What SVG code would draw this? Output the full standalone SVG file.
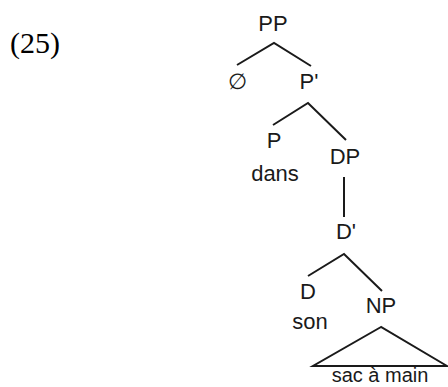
<svg xmlns="http://www.w3.org/2000/svg" width="448" height="387" viewBox="0 0 448 387">
  <style>
    .lbl { font-family: "Liberation Sans", Arial, sans-serif; font-size: 22px; fill: #1a1a1a; text-anchor: middle; }
    .leaf { font-size: 20px; }
    .num { font-family: "Liberation Serif", "Times New Roman", serif; font-size: 30px; fill: #000; }
    .edge { stroke: #1a1a1a; stroke-width: 2; fill: none; stroke-linecap: butt; }
  </style>
  <rect width="448" height="387" fill="#fff"/>
  <text class="num" x="10" y="53">(25)</text>

  <g id="connectors">
    <polyline class="edge" points="237,65 274,43 311,66"/>
    <polyline class="edge" points="273,125 308,103 346,140"/>
    <line class="edge" x1="344" y1="177" x2="344" y2="217"/>
    <polyline class="edge" points="308,276 344,254 382,291"/>
    <polygon class="edge" points="381,327 313,366 447,366"/>
  </g>

  <g id="node-PP"><text class="lbl" x="273" y="31">PP</text></g>
  <g id="node-empty"><text class="lbl" x="237" y="89">∅</text></g>
  <g id="node-Pbar"><text class="lbl" x="309" y="89">P'</text></g>
  <g id="node-P"><text class="lbl" x="274" y="148">P</text><text class="lbl" x="275" y="181">dans</text></g>
  <g id="node-DP"><text class="lbl" x="345" y="164">DP</text></g>
  <g id="node-Dbar"><text class="lbl" x="346" y="239">D'</text></g>
  <g id="node-D"><text class="lbl" x="308" y="299">D</text><text class="lbl" x="310" y="329">son</text></g>
  <g id="node-NP"><text class="lbl" x="381" y="313">NP</text><text class="lbl leaf" x="380" y="382">sac à main</text></g>
</svg>
